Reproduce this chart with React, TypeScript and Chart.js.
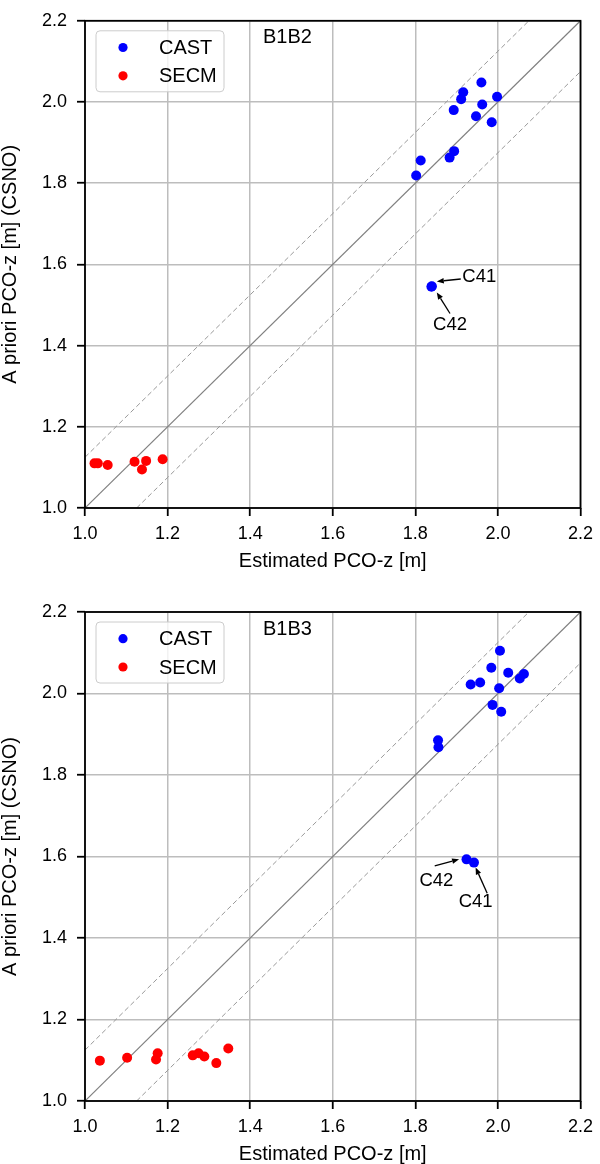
import React, { useEffect, useRef } from "react";
import { Chart, registerables } from "chart.js";

Chart.register(...registerables);

const FONT = '"Liberation Sans", Arial, Helvetica, sans-serif';

// Axis ticks (both axes, both panels)
const tickValues = [1.0, 1.2, 1.4, 1.6, 1.8, 2.0, 2.2];

// Reference lines
const diagX = [1.0, 2.2];
const diagY = [1.0, 2.2];
const upperX = [1.0, 2.075];
const upperY = [1.125, 2.2];
const lowerX = [1.125, 2.2];
const lowerY = [1.0, 2.075];

// Panel B1B2
const b1b2CastX = [1.960, 1.916, 1.911, 1.998, 1.962, 1.893, 1.947, 1.985, 1.894, 1.883, 1.813, 1.802, 1.839, 1.840];
const b1b2CastY = [2.048, 2.024, 2.007, 2.013, 1.994, 1.980, 1.965, 1.950, 1.879, 1.863, 1.856, 1.819, 1.545, 1.546];
const b1b2SecmX = [1.023, 1.031, 1.055, 1.120, 1.148, 1.138, 1.188];
const b1b2SecmY = [1.110, 1.110, 1.106, 1.114, 1.116, 1.095, 1.120];

// Panel B1B3
const b1b3CastX = [2.005, 1.984, 2.025, 2.063, 2.053, 1.957, 1.934, 2.003, 1.987, 2.008, 1.855, 1.856, 1.924, 1.942];
const b1b3CastY = [2.105, 2.063, 2.051, 2.048, 2.037, 2.027, 2.022, 2.013, 1.972, 1.955, 1.885, 1.868, 1.593, 1.585];
const b1b3SecmX = [1.036, 1.102, 1.172, 1.176, 1.261, 1.275, 1.289, 1.318, 1.347];
const b1b3SecmY = [1.099, 1.106, 1.102, 1.117, 1.112, 1.117, 1.109, 1.093, 1.129];

type Annot = { label: string; lx: number; ly: number; fx: number; fy: number; tx: number; ty: number };

const b1b2Annots: Annot[] = [
  { label: "C41", lx: 1.955, ly: 1.569, fx: 1.910, fy: 1.564, tx: 1.852, ty: 1.558 },
  { label: "C42", lx: 1.884, ly: 1.452, fx: 1.884, fy: 1.479, tx: 1.852, ty: 1.531 },
];
const b1b3Annots: Annot[] = [
  { label: "C42", lx: 1.851, ly: 1.540, fx: 1.847, fy: 1.577, tx: 1.906, ty: 1.593 },
  { label: "C41", lx: 1.946, ly: 1.489, fx: 1.974, fy: 1.510, tx: 1.946, ty: 1.573 },
];

const toPts = (xs: number[], ys: number[]) => xs.map((x, i) => ({ x, y: ys[i] }));

function overlayPlugin(title: string, annots: Annot[]) {
  return {
    id: "overlay",
    afterDatasetsDraw(chart: any) {
      const { ctx, chartArea: a, scales } = chart;
      const sx = scales.x;
      const sy = scales.y;
      ctx.save();

      // annotations
      ctx.font = `18.5px ${FONT}`;
      ctx.fillStyle = "#000";
      ctx.strokeStyle = "#000";
      ctx.textAlign = "center";
      ctx.textBaseline = "middle";
      annots.forEach((an) => {
        const lx = sx.getPixelForValue(an.lx);
        const ly = sy.getPixelForValue(an.ly);
        ctx.fillText(an.label, lx, ly);
        const fx = sx.getPixelForValue(an.fx);
        const fy = sy.getPixelForValue(an.fy);
        const tx = sx.getPixelForValue(an.tx);
        const ty = sy.getPixelForValue(an.ty);
        const ang = Math.atan2(ty - fy, tx - fx);
        const hl = 7;
        const hw = 2.8;
        const bx = tx - hl * Math.cos(ang);
        const by = ty - hl * Math.sin(ang);
        ctx.lineWidth = 1.3;
        ctx.beginPath();
        ctx.moveTo(fx, fy);
        ctx.lineTo(bx, by);
        ctx.stroke();
        ctx.beginPath();
        ctx.moveTo(tx, ty);
        ctx.lineTo(bx + hw * Math.sin(ang), by - hw * Math.cos(ang));
        ctx.lineTo(bx - hw * Math.sin(ang), by + hw * Math.cos(ang));
        ctx.closePath();
        ctx.fill();
      });

      // plot frame
      ctx.strokeStyle = "#000";
      ctx.lineWidth = 1.8;
      ctx.strokeRect(a.left, a.top, a.right - a.left, a.bottom - a.top);

      // legend
      const lbx = a.left + 11;
      const lby = a.top + 10;
      ctx.beginPath();
      if ((ctx as any).roundRect) (ctx as any).roundRect(lbx, lby, 128, 61, 4);
      else ctx.rect(lbx, lby, 128, 61);
      ctx.fillStyle = "rgba(255,255,255,0.8)";
      ctx.fill();
      ctx.strokeStyle = "#cccccc";
      ctx.lineWidth = 1;
      ctx.stroke();
      ctx.font = `20px ${FONT}`;
      ctx.textAlign = "left";
      ctx.textBaseline = "middle";
      chart.data.datasets.slice(0, 2).forEach((ds: any, i: number) => {
        const cy = lby + 16.7 + i * 28.3;
        ctx.beginPath();
        ctx.arc(lbx + 27, cy, 4.6, 0, Math.PI * 2);
        ctx.fillStyle = ds.backgroundColor;
        ctx.fill();
        ctx.fillStyle = "#000";
        ctx.fillText(ds.label, lbx + 63, cy + 1);
      });

      // panel title
      ctx.font = `20px ${FONT}`;
      ctx.fillStyle = "#000";
      ctx.fillText(title, a.left + 178, a.top + 17);

      ctx.restore();
    },
  };
}

type PanelProps = {
  title: string;
  castX: number[];
  castY: number[];
  secmX: number[];
  secmY: number[];
  annots: Annot[];
  padTop: number;
  xAxisH: number;
  xTitlePad: number;
};

function Panel(p: PanelProps) {
  const ref = useRef<HTMLCanvasElement>(null);
  useEffect(() => {
    if (!ref.current) return;
    const gridCfg = {
      color: "#bdbdbd",
      lineWidth: 1.5,
      tickLength: 8,
      tickColor: "#000",
      tickWidth: 1.8,
    };
    const tickFont = { size: 18, family: FONT };
    const titleFont = { size: 20, family: FONT, lineHeight: 1 };
    const lineDs = (xs: number[], ys: number[], dash: number[], color: string, w: number) => ({
      label: "",
      data: toPts(xs, ys),
      showLine: true,
      borderColor: color,
      borderWidth: w,
      borderDash: dash,
      pointRadius: 0,
      pointHoverRadius: 0,
      fill: false,
    });
    const chart = new Chart(ref.current, {
      type: "scatter",
      data: {
        datasets: [
          { label: "CAST", data: toPts(p.castX, p.castY), backgroundColor: "#0000ff", borderColor: "#0000ff", borderWidth: 0, pointRadius: 5, pointHoverRadius: 5 },
          { label: "SECM", data: toPts(p.secmX, p.secmY), backgroundColor: "#ff0000", borderColor: "#ff0000", borderWidth: 0, pointRadius: 5, pointHoverRadius: 5 },
          lineDs(diagX, diagY, [], "#808080", 1.2),
          lineDs(upperX, upperY, [5, 3], "#999999", 1),
          lineDs(lowerX, lowerY, [5, 3], "#999999", 1),
        ] as any,
      },
      options: {
        animation: false,
        responsive: false,
        devicePixelRatio: 1,
        events: [],
        layout: { padding: { top: p.padTop, right: 16, left: 0, bottom: 0 } },
        plugins: { legend: { display: false }, tooltip: { enabled: false } },
        scales: {
          x: {
            type: "linear",
            min: 1.0,
            max: 2.2,
            afterBuildTicks: (s: any) => {
              s.ticks = tickValues.map((v) => ({ value: v }));
            },
            afterFit: (s: any) => {
              s.height = p.xAxisH;
            },
            ticks: {
              font: tickFont,
              color: "#000",
              padding: 7,
              autoSkip: false,
              maxRotation: 0,
              callback: (v: any) => Number(v).toFixed(1),
            },
            grid: gridCfg,
            border: { display: false },
            title: {
              display: true,
              text: "Estimated PCO-z [m]",
              font: titleFont,
              color: "#000",
              padding: { top: 0, bottom: p.xTitlePad },
            },
          },
          y: {
            type: "linear",
            min: 1.0,
            max: 2.2,
            afterBuildTicks: (s: any) => {
              s.ticks = tickValues.map((v) => ({ value: v }));
            },
            afterFit: (s: any) => {
              s.width = 85;
            },
            ticks: {
              font: tickFont,
              color: "#000",
              padding: 10,
              autoSkip: false,
              callback: (v: any) => Number(v).toFixed(1),
            },
            grid: gridCfg,
            border: { display: false },
            title: {
              display: true,
              text: "A priori PCO-z [m] (CSNO)",
              font: titleFont,
              color: "#000",
              padding: { top: 0, bottom: 0 },
            },
          },
        },
      } as any,
      plugins: [overlayPlugin(p.title, p.annots)],
    });
    return () => chart.destroy();
  }, []);
  return <canvas ref={ref} width={600} height={582} style={{ display: "block", width: 600, height: 582 }} />;
}

export default function App() {
  return (
    <div style={{ position: "absolute", left: 0, top: 0, width: 600, height: 1164, background: "#fff" }}>
      <Panel title="B1B2" castX={b1b2CastX} castY={b1b2CastY} secmX={b1b2SecmX} secmY={b1b2SecmY} annots={b1b2Annots} padTop={19} xAxisH={74} xTitlePad={10.5} />
      <Panel title="B1B3" castX={b1b3CastX} castY={b1b3CastY} secmX={b1b3SecmX} secmY={b1b3SecmY} annots={b1b3Annots} padTop={30} xAxisH={63} xTitlePad={0} />
    </div>
  );
}
